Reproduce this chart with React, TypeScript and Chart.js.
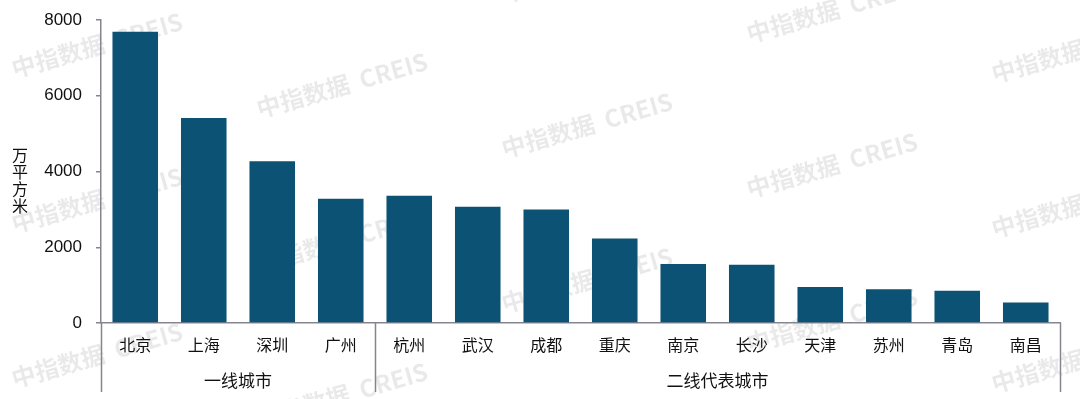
import React, { useEffect, useRef } from "react";
import { Chart, registerables } from "chart.js";

Chart.register(...registerables);

const categories = ["北京", "上海", "深圳", "广州", "杭州", "武汉", "成都", "重庆", "南京", "长沙", "天津", "苏州", "青岛", "南昌"];
const values = [7690, 5410, 4270, 3280, 3360, 3070, 3000, 2230, 1560, 1540, 950, 890, 850, 540];
const groupLabels = ["一线城市", "二线代表城市"];
const groupStarts = [0, 4];
const groupEnds = [3, 13];
const yTickValues = [0, 2000, 4000, 6000, 8000];
const yTitleChars = ["万", "平", "方", "米"];
const watermarkText = "中指数据  CREIS";

const BAR_COLOR = "#0b5274";
const AXIS_COLOR = "#85858f";
const CJK = '"Noto Sans CJK SC", "Noto Sans", sans-serif';

const watermarkPlugin = {
  id: "watermark",
  beforeDraw(chart: any) {
    const ctx = chart.ctx;
    ctx.save();
    ctx.fillStyle = "rgba(0,0,0,0.085)";
    ctx.font = `bold 24px ${CJK}`;
    ctx.textAlign = "center";
    ctx.textBaseline = "middle";
    for (let i = 0; i < 5; i++) {
      const cx = 97 + 245 * i;
      const base = 45 + 40 * i;
      for (let k = -2; k <= 3; k++) {
        const cy = base + 155 * k;
        if (cy < -60 || cy > 460) continue;
        ctx.save();
        ctx.translate(cx, cy);
        ctx.rotate((-16 * Math.PI) / 180);
        ctx.fillText(watermarkText, 0, 0);
        ctx.restore();
      }
    }
    ctx.restore();
  },
};

const groupPlugin = {
  id: "groups",
  afterDraw(chart: any) {
    const ctx = chart.ctx;
    const x = chart.scales.x;
    const area = chart.chartArea;
    const y0 = area.bottom;
    const y1 = 392;
    const half = (x.getPixelForValue(1) - x.getPixelForValue(0)) / 2;
    ctx.save();
    ctx.strokeStyle = AXIS_COLOR;
    ctx.lineWidth = 1.5;
    const edges: number[] = [x.getPixelForValue(groupStarts[0]) - half];
    groupEnds.forEach((e) => edges.push(x.getPixelForValue(e) + half));
    edges.forEach((ex) => {
      ctx.beginPath();
      ctx.moveTo(Math.round(ex) + 0.5, y0);
      ctx.lineTo(Math.round(ex) + 0.5, y1);
      ctx.stroke();
    });
    ctx.fillStyle = "#111";
    ctx.font = `17px ${CJK}`;
    ctx.textAlign = "center";
    ctx.textBaseline = "middle";
    groupLabels.forEach((lbl, i) => {
      const l = x.getPixelForValue(groupStarts[i]) - half;
      const r = x.getPixelForValue(groupEnds[i]) + half;
      ctx.fillText(lbl, (l + r) / 2, 381);
    });
    // y-axis title, vertical stacked characters
    ctx.font = `16px ${CJK}`;
    yTitleChars.forEach((c, i) => {
      ctx.fillText(c, 20, 155 + i * 17);
    });
    ctx.restore();
  },
};

export default function App() {
  const ref = useRef<HTMLCanvasElement | null>(null);
  useEffect(() => {
    if (!ref.current) return;
    const chart = new Chart(ref.current, {
      type: "bar",
      data: {
        labels: categories,
        datasets: [
          {
            data: values,
            backgroundColor: BAR_COLOR,
            borderWidth: 0,
            categoryPercentage: 1,
            barPercentage: 0.665,
          },
        ],
      },
      options: {
        responsive: false,
        animation: false,
        maintainAspectRatio: false,
        layout: { padding: { top: 20, right: 20, left: 0, bottom: 0 } },
        plugins: { legend: { display: false }, tooltip: { enabled: false } },
        scales: {
          x: {
            grid: { display: false, drawTicks: false },
            border: { display: true, color: AXIS_COLOR, width: 1.5 },
            ticks: {
              color: "#111",
              font: { size: 16, family: CJK },
              padding: 12,
              maxRotation: 0,
              autoSkip: false,
            },
            afterFit(scale: any) {
              scale.height = 76;
              scale.paddingLeft = 0;
              scale.paddingRight = 0;
            },
          },
          y: {
            min: 0,
            max: 8000,
            afterBuildTicks(scale: any) {
              scale.ticks = yTickValues.map((v) => ({ value: v }));
            },
            grid: { drawOnChartArea: false, drawTicks: true, tickLength: 5, color: AXIS_COLOR, lineWidth: 1.5 },
            border: { display: true, color: AXIS_COLOR, width: 1.5 },
            ticks: {
              color: "#111",
              font: { size: 17, family: '"Liberation Sans", Arial, sans-serif' },
              padding: 14,
              callback: (v: any) => String(v),
            },
            afterFit(scale: any) {
              scale.width = 101;
              scale.paddingTop = 0;
              scale.paddingBottom = 0;
            },
          },
        },
      },
      plugins: [watermarkPlugin, groupPlugin],
    });
    return () => chart.destroy();
  }, []);
  return (
    <div style={{ position: "fixed", left: 0, top: 0, width: 1080, height: 399, background: "#fff" }}>
      <canvas ref={ref} width={1080} height={399} style={{ display: "block" }} />
    </div>
  );
}
